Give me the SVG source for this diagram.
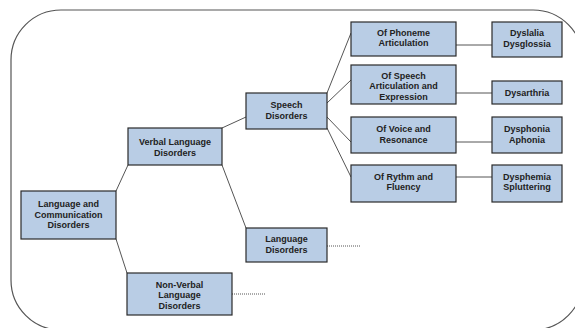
<svg xmlns="http://www.w3.org/2000/svg" width="575" height="328" viewBox="0 0 575 328">
<style>
.box{fill:#b9cde5;stroke:#2a2a2a;stroke-width:1.2}
.t{font-family:"Liberation Sans",Arial,sans-serif;font-size:9px;font-weight:bold;fill:#222;text-anchor:middle}
.c{stroke:#555;stroke-width:1;fill:none}
.d{stroke:#555;stroke-width:1;fill:none;stroke-dasharray:1,1}
</style>
<rect width="575" height="328" fill="#fff"/>
<rect x="11" y="10" width="572" height="320" rx="50" ry="50" fill="none" stroke="#555" stroke-width="1.2"/>
<g id="connectors">
<line class="c" x1="116" y1="191" x2="128" y2="165"/>
<line class="c" x1="116" y1="239" x2="127" y2="273"/>
<line class="c" x1="222" y1="128" x2="246" y2="117"/>
<line class="c" x1="222" y1="165" x2="246" y2="228"/>
<line class="c" x1="327" y1="93" x2="351" y2="33"/>
<line class="c" x1="327" y1="103" x2="351" y2="80"/>
<line class="c" x1="327" y1="117" x2="351" y2="142"/>
<line class="c" x1="327" y1="128" x2="351" y2="177"/>
<line class="c" x1="456" y1="45" x2="492" y2="45"/>
<line class="c" x1="456" y1="93" x2="492" y2="93"/>
<line class="c" x1="456" y1="142" x2="492" y2="142"/>
<line class="c" x1="456" y1="177" x2="492" y2="177"/>
<line class="d" x1="327" y1="246" x2="361" y2="246"/>
<line class="d" x1="232" y1="294" x2="266" y2="294"/>
</g>
<g id="lcd"><rect class="box" x="21" y="191" width="95" height="48"/><text class="t" x="68.5"><tspan x="68.5" y="207">Language and</tspan><tspan x="68.5" y="217.5">Communication</tspan><tspan x="68.5" y="228">Disorders</tspan></text></g>
<g id="verbal"><rect class="box" x="128" y="128" width="94" height="37"/><text class="t"><tspan x="175" y="144.5">Verbal Language</tspan><tspan x="175" y="155.5">Disorders</tspan></text></g>
<g id="nonverbal"><rect class="box" x="127" y="273" width="105" height="42"/><text class="t"><tspan x="179.5" y="287.5">Non-Verbal</tspan><tspan x="179.5" y="298">Language</tspan><tspan x="179.5" y="308.5">Disorders</tspan></text></g>
<g id="speech"><rect class="box" x="246" y="93" width="81" height="36"/><text class="t"><tspan x="286.5" y="108">Speech</tspan><tspan x="286.5" y="118.5">Disorders</tspan></text></g>
<g id="langdis"><rect class="box" x="246" y="228" width="81" height="34"/><text class="t"><tspan x="286.5" y="242">Language</tspan><tspan x="286.5" y="252.5">Disorders</tspan></text></g>
<g id="phoneme"><rect class="box" x="351" y="22" width="105" height="34"/><text class="t"><tspan x="403.5" y="35.5">Of Phoneme</tspan><tspan x="403.5" y="46">Articulation</tspan></text></g>
<g id="speechart"><rect class="box" x="351" y="65" width="105" height="39"/><text class="t"><tspan x="403.5" y="78.5">Of Speech</tspan><tspan x="403.5" y="89">Articulation and</tspan><tspan x="403.5" y="99.5">Expression</tspan></text></g>
<g id="voice"><rect class="box" x="351" y="117" width="105" height="36"/><text class="t"><tspan x="403.5" y="132">Of Voice and</tspan><tspan x="403.5" y="142.5">Resonance</tspan></text></g>
<g id="rythm"><rect class="box" x="351" y="165" width="105" height="37"/><text class="t"><tspan x="403.5" y="179.5">Of Rythm and</tspan><tspan x="403.5" y="190">Fluency</tspan></text></g>
<g id="dyslalia"><rect class="box" x="492" y="22" width="70" height="35"/><text class="t"><tspan x="527" y="36">Dyslalia</tspan><tspan x="527" y="46.5">Dysglossia</tspan></text></g>
<g id="dysarthria"><rect class="box" x="492" y="81" width="70" height="23"/><text class="t"><tspan x="527" y="95.5">Dysarthria</tspan></text></g>
<g id="dysphonia"><rect class="box" x="492" y="117" width="70" height="36"/><text class="t"><tspan x="527" y="132">Dysphonia</tspan><tspan x="527" y="142.5">Aphonia</tspan></text></g>
<g id="dysphemia"><rect class="box" x="492" y="165" width="70" height="37"/><text class="t"><tspan x="527" y="179.5">Dysphemia</tspan><tspan x="527" y="190">Spluttering</tspan></text></g>
</svg>
